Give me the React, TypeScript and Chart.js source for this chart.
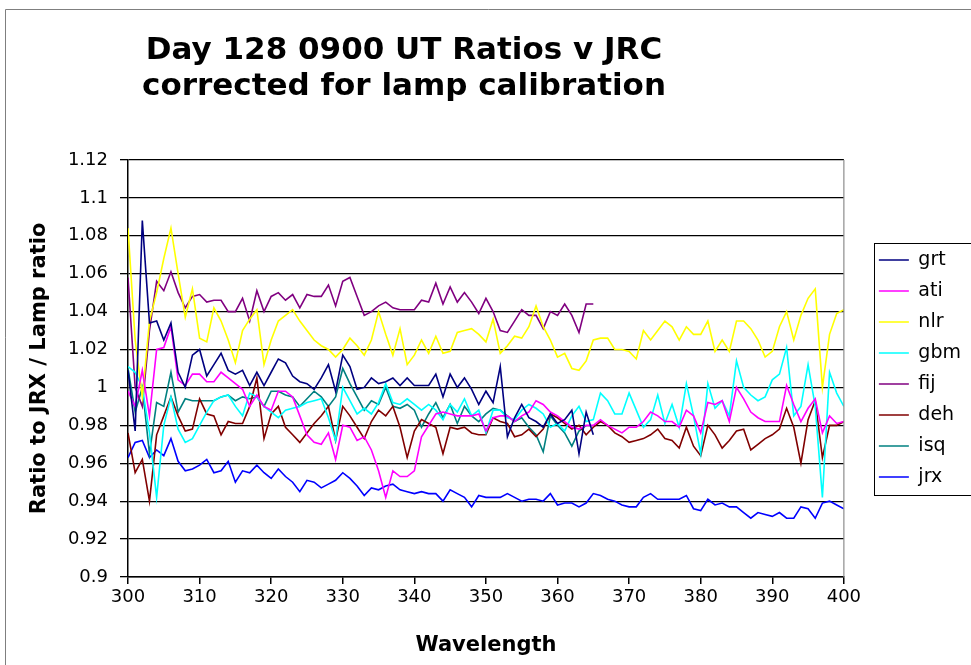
import React, { useEffect, useRef } from "react";
import { Chart, registerables } from "chart.js";

Chart.register(...registerables);

const TITLE_LINES = ["Day 128 0900 UT Ratios v JRC", "corrected for lamp calibration"];
const X_TITLE = "Wavelength";
const Y_TITLE = "Ratio to JRX / Lamp ratio";

const wavelengths = [
  300, 301, 302, 303, 304, 305, 306, 307, 308, 309, 310, 311, 312, 313, 314, 315, 316, 317, 318, 319,
  320, 321, 322, 323, 324, 325, 326, 327, 328, 329, 330, 331, 332, 333, 334, 335, 336, 337, 338, 339,
  340, 341, 342, 343, 344, 345, 346, 347, 348, 349, 350, 351, 352, 353, 354, 355, 356, 357, 358, 359,
  360, 361, 362, 363, 364, 365, 366, 367, 368, 369, 370, 371, 372, 373, 374, 375, 376, 377, 378, 379,
  380, 381, 382, 383, 384, 385, 386, 387, 388, 389, 390, 391, 392, 393, 394, 395, 396, 397, 398, 399, 400,
];

const grt = [
  1.009, 0.977, 1.088, 1.034, 1.035, 1.025, 1.034, 1.008, 1.0, 1.017, 1.02, 1.006, 1.012, 1.018, 1.009, 1.007, 1.009, 1.001, 1.008, 1.001,
  1.008, 1.015, 1.013, 1.006, 1.003, 1.002, 0.999, 1.005, 1.012, 0.998, 1.017, 1.011, 0.999, 1.0, 1.005, 1.002, 1.003, 1.005, 1.001, 1.005,
  1.001, 1.001, 1.001, 1.007, 0.995, 1.007, 1.0, 1.005, 0.999, 0.991, 0.998, 0.992, 1.011, 0.974, 0.984, 0.991, 0.984, 0.982, 0.979, 0.986,
  0.981, 0.983, 0.988, 0.965, 0.987, 0.975,
];

const ati = [
  0.998, 0.99, 1.009, 0.985, 1.02, 1.021, 1.032, 1.004, 1.001, 1.007, 1.007, 1.003, 1.003, 1.008, 1.005, 1.002, 0.999, 0.99, 0.996, 0.99,
  0.988, 0.998, 0.998, 0.995, 0.985, 0.975, 0.971, 0.97, 0.976, 0.962, 0.98, 0.979, 0.972, 0.974, 0.967, 0.956, 0.942, 0.956, 0.953, 0.953,
  0.956, 0.974, 0.98, 0.986, 0.987, 0.986, 0.985, 0.985, 0.985, 0.986, 0.977, 0.984, 0.985, 0.985, 0.982, 0.985, 0.987, 0.993, 0.991, 0.987,
  0.985, 0.982, 0.979, 0.978, 0.98, 0.98, 0.983, 0.98, 0.978, 0.976, 0.979, 0.979, 0.982, 0.987, 0.985, 0.982, 0.982, 0.979, 0.988, 0.985,
  0.976, 0.992, 0.991, 0.993, 0.982, 1.0, 0.994, 0.987, 0.984, 0.982, 0.982, 0.982, 1.001, 0.991, 0.982, 0.989, 0.994, 0.976, 0.985, 0.981, 0.982,
];

const nlr = [
  1.084, 1.025, 0.995, 1.035, 1.05, 1.068, 1.084, 1.06, 1.037, 1.052, 1.026, 1.024, 1.042, 1.035, 1.025, 1.013, 1.03, 1.036, 1.041, 1.012,
  1.025, 1.035, 1.038, 1.041, 1.035, 1.03, 1.025, 1.022, 1.02, 1.016, 1.02, 1.026, 1.022, 1.017, 1.025, 1.04, 1.028, 1.017, 1.031, 1.012,
  1.017, 1.025, 1.018, 1.027, 1.018, 1.019, 1.029, 1.03, 1.031, 1.028, 1.024, 1.036, 1.018, 1.022, 1.027, 1.026, 1.032, 1.043, 1.032, 1.025,
  1.016, 1.018, 1.01, 1.009, 1.014, 1.025, 1.026, 1.026, 1.02, 1.02, 1.019, 1.015, 1.03, 1.025, 1.03, 1.035, 1.032, 1.025, 1.032, 1.028,
  1.028, 1.035, 1.019, 1.025, 1.019, 1.035, 1.035, 1.031, 1.025, 1.016, 1.019, 1.032, 1.04, 1.025, 1.038, 1.047, 1.052, 1.0, 1.028, 1.039, 1.041,
];

const gbm = [
  1.011, 1.008, 1.0, 0.976, 0.942, 0.98, 0.995, 0.978, 0.971, 0.973, 0.98, 0.987, 0.993, 0.995, 0.996, 0.99, 0.985, 0.997, 0.995, 0.99,
  0.987, 0.984, 0.988, 0.989, 0.99, 0.992, 0.993, 0.994, 0.984, 0.972, 1.0, 0.993, 0.986, 0.989, 0.986, 0.992, 1.002, 0.992, 0.991, 0.994,
  0.991, 0.988, 0.991, 0.988, 0.983, 0.991, 0.987, 0.994, 0.985, 0.988, 0.976, 0.988, 0.988, 0.984, 0.983, 0.988, 0.991, 0.989, 0.986, 0.979,
  0.981, 0.977, 0.985, 0.99, 0.982, 0.983, 0.997, 0.993, 0.986, 0.986, 0.997, 0.988, 0.979, 0.983, 0.996, 0.981, 0.991, 0.979, 1.002, 0.985,
  0.965, 1.002, 0.989, 0.993, 0.985, 1.014, 1.0, 0.996, 0.993, 0.995, 1.004, 1.007, 1.021, 0.985, 0.99, 1.012, 0.99, 0.942, 1.008, 0.997, 0.99,
];

const fij = [
  1.058, 1.0, 0.99, 1.03, 1.056, 1.051, 1.061, 1.05, 1.042, 1.048, 1.049, 1.045, 1.046, 1.046, 1.04, 1.04, 1.047, 1.035, 1.051, 1.04,
  1.048, 1.05, 1.046, 1.049, 1.042, 1.049, 1.048, 1.048, 1.054, 1.043, 1.056, 1.058, 1.048, 1.038, 1.04, 1.043, 1.045, 1.042, 1.041, 1.041,
  1.041, 1.046, 1.045, 1.055, 1.044, 1.053, 1.045, 1.05, 1.045, 1.039, 1.047, 1.04, 1.03, 1.029, 1.035, 1.041, 1.038, 1.038, 1.031, 1.04,
  1.038, 1.044, 1.038, 1.029, 1.044, 1.044,
];

const deh = [
  0.976, 0.955, 0.962, 0.94, 0.975, 0.985, 0.995, 0.985, 0.977, 0.978, 0.994, 0.986, 0.985, 0.975, 0.982, 0.981, 0.981, 0.99, 1.005, 0.973,
  0.986, 0.99, 0.979, 0.975, 0.971, 0.976, 0.981, 0.985, 0.99, 0.972, 0.99, 0.985, 0.979, 0.973, 0.982, 0.988, 0.985, 0.99, 0.979, 0.963,
  0.977, 0.983, 0.981, 0.979, 0.965, 0.979, 0.978, 0.979, 0.976, 0.975, 0.975, 0.984, 0.982, 0.981, 0.974, 0.975, 0.978, 0.974, 0.978, 0.986,
  0.984, 0.981, 0.978, 0.98, 0.975, 0.979, 0.982, 0.98, 0.976, 0.974, 0.971, 0.972, 0.973, 0.975, 0.978, 0.973, 0.972, 0.968, 0.979, 0.969,
  0.964, 0.98, 0.975, 0.968, 0.972, 0.977, 0.978, 0.967, 0.97, 0.973, 0.975, 0.978, 0.989, 0.979, 0.96, 0.983, 0.993, 0.963, 0.98, 0.98, 0.982,
];

const isq = [
  1.01, 0.987, 1.0, 0.965, 0.992, 0.99, 1.008, 0.987, 0.994, 0.993, 0.993, 0.993, 0.993, 0.995, 0.996, 0.993, 0.995, 0.994, 0.995, 0.99,
  0.998, 0.998, 0.996, 0.995, 0.99, 0.994, 0.998, 0.995, 0.99, 0.995, 1.01, 1.002, 0.995, 0.988, 0.993, 0.991, 1.0, 0.99, 0.989, 0.991,
  0.988, 0.979, 0.986, 0.992, 0.984, 0.991, 0.981, 0.99, 0.985, 0.982, 0.986, 0.989, 0.988, 0.985, 0.982, 0.984, 0.979, 0.975, 0.966, 0.985,
  0.98, 0.976, 0.969, 0.977, 0.98,
];

const jrx = [
  0.963, 0.971, 0.972, 0.963, 0.967, 0.964, 0.973, 0.961, 0.956, 0.957, 0.959, 0.962, 0.955, 0.956, 0.961, 0.95, 0.956, 0.955, 0.959, 0.955,
  0.952, 0.957, 0.953, 0.95, 0.945, 0.951, 0.95, 0.947, 0.949, 0.951, 0.955, 0.952, 0.948, 0.943, 0.947, 0.946, 0.948, 0.949, 0.946, 0.945,
  0.944, 0.945, 0.944, 0.944, 0.94, 0.946, 0.944, 0.942, 0.937, 0.943, 0.942, 0.942, 0.942, 0.944, 0.942, 0.94, 0.941, 0.941, 0.94, 0.944,
  0.938, 0.939, 0.939, 0.937, 0.939, 0.944, 0.943, 0.941, 0.94, 0.938, 0.937, 0.937, 0.942, 0.944, 0.941, 0.941, 0.941, 0.941, 0.943, 0.936,
  0.935, 0.941, 0.938, 0.939, 0.937, 0.937, 0.934, 0.931, 0.934, 0.933, 0.932, 0.934, 0.931, 0.931, 0.937, 0.936, 0.931, 0.939, 0.94, 0.938, 0.936,
];

const seriesNames = ["grt", "ati", "nlr", "gbm", "fij", "deh", "isq", "jrx"];
const seriesValues = [grt, ati, nlr, gbm, fij, deh, isq, jrx];
const seriesColors = ["#000080", "#FF00FF", "#FFFF00", "#00FFFF", "#800080", "#800000", "#008080", "#0000FF"];

const FONT = "'DejaVu Sans', Verdana, sans-serif";

const framePlugin = {
  id: "frame",
  afterLayout(chart: any) {
    const tb = chart.titleBlock;
    if (tb) {
      tb.left = 0;
      tb.right = 808;
    }
  },
  beforeDraw(chart: any) {
    const ctx = chart.ctx;
    ctx.save();
    ctx.fillStyle = "#ffffff";
    ctx.fillRect(0, 0, chart.width, chart.height);
    ctx.strokeStyle = "#7f7f7f";
    ctx.lineWidth = 1;
    ctx.beginPath();
    ctx.moveTo(5.5, chart.height);
    ctx.lineTo(5.5, 9.5);
    ctx.lineTo(chart.width, 9.5);
    ctx.stroke();
    ctx.restore();
  },
  afterDraw(chart: any) {
    const ctx = chart.ctx;
    const a = chart.chartArea;
    ctx.save();
    ctx.strokeStyle = "#8c8c8c";
    ctx.lineWidth = 1.2;
    ctx.beginPath();
    ctx.moveTo(a.right, a.top);
    ctx.lineTo(a.right, a.bottom);
    ctx.stroke();
    const lg = chart.legend;
    if (lg && lg.legendHitBoxes && lg.legendHitBoxes.length) {
      const hb = lg.legendHitBoxes;
      const first = hb[0];
      const last = hb[hb.length - 1];
      const x0 = 874;
      const y0 = first.top - 7;
      const y1 = last.top + last.height + 9;
      ctx.strokeStyle = "#000";
      ctx.lineWidth = 1;
      ctx.strokeRect(x0 + 0.5, Math.round(y0) + 0.5, chart.width + 10 - x0, y1 - y0);
    }
    ctx.restore();
  },
};

export default function App() {
  const ref = useRef<HTMLCanvasElement | null>(null);
  useEffect(() => {
    if (!ref.current) return;
    const datasets = seriesNames.map((name, k) => ({
      label: name,
      data: seriesValues[k].map((v, i) => ({ x: wavelengths[i], y: v })),
      borderColor: seriesColors[k],
      backgroundColor: seriesColors[k],
      borderWidth: 1.6,
      pointRadius: 0,
      tension: 0,
      fill: false,
      yAxisID: "y",
    }));
    const chart = new Chart(ref.current, {
      type: "line",
      data: { datasets },
      plugins: [framePlugin],
      options: {
        animation: false,
        responsive: false,
        events: [],
        layout: { padding: { left: 0, right: 0, top: 0, bottom: 0 } },
        plugins: {
          title: {
            display: true,
            text: TITLE_LINES,
            color: "#000",
            font: { family: FONT, size: 31, weight: "bold", lineHeight: 1.16 },
            padding: { top: 33, bottom: 55 },
          },
          legend: {
            position: "right",
            fullSize: false,
            align: "center",
            labels: {
              color: "#000",
              font: { family: FONT, size: 19 },
              usePointStyle: true,
              pointStyle: "line",
              pointStyleWidth: 30,
              boxWidth: 30,
              padding: 12,
            },
          },
          tooltip: { enabled: false },
        },
        scales: {
          x: {
            type: "linear",
            min: 300,
            max: 400,
            ticks: { stepSize: 10, color: "#000", font: { family: FONT, size: 18 }, padding: 3, maxRotation: 0 },
            grid: { drawOnChartArea: false, drawTicks: true, tickLength: 7, color: "#000", lineWidth: 1.5 },
            border: { display: true, color: "#000", width: 1.5 },
            title: {
              display: true,
              text: X_TITLE,
              color: "#000",
              font: { family: FONT, size: 21, weight: "bold" },
              padding: { top: 0, bottom: 7 },
            },
            afterFit: (s: any) => {
              s.height = 88;
            },
          },
          y: {
            type: "linear",
            position: "left",
            min: 0.9,
            max: 1.12,
            ticks: {
              stepSize: 0.02,
              color: "#000",
              font: { family: FONT, size: 18 },
              padding: 12,
              callback: (v: any) => String(Number(Number(v).toFixed(2))),
            },
            grid: { color: "#000", lineWidth: 1.3, tickLength: 8 },
            border: { display: true, color: "#000", width: 1.5 },
            title: {
              display: true,
              text: Y_TITLE,
              color: "#000",
              font: { family: FONT, size: 21, weight: "bold" },
              padding: { top: 27, bottom: 0 },
            },
            afterFit: (s: any) => {
              s.width = 128;
            },
          },
          r: {
            type: "linear",
            position: "right",
            display: true,
            grid: { display: false },
            ticks: { display: false },
            border: { display: false },
            afterFit: (s: any) => {
              s.width = 23;
            },
          },
        },
      },
    } as any);
    return () => chart.destroy();
  }, []);
  return (
    <div style={{ position: "absolute", left: 0, top: 0, width: 971, height: 665, background: "#fff" }}>
      <canvas ref={ref} width={971} height={665} style={{ display: "block" }} />
    </div>
  );
}
